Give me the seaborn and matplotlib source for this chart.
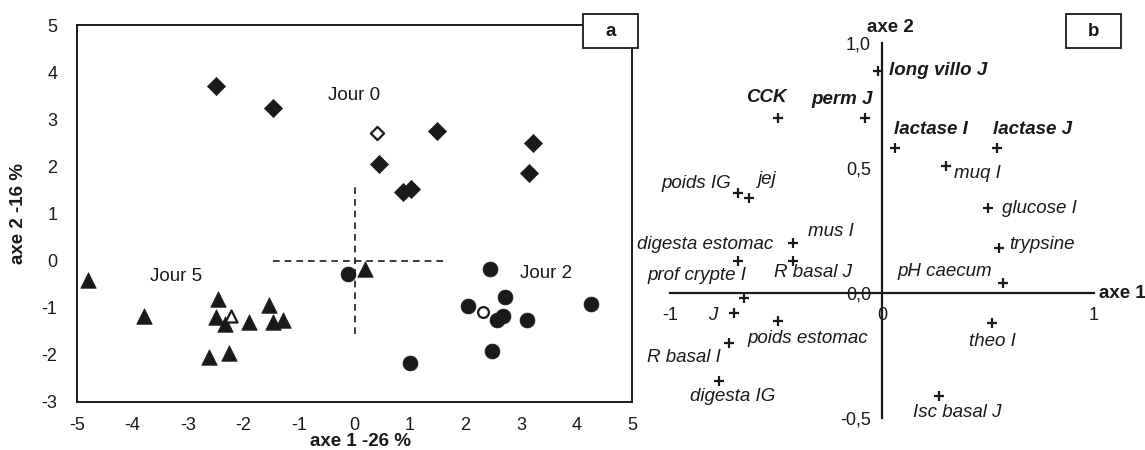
import matplotlib
matplotlib.use('Agg')

import pandas as pd
import matplotlib.pyplot as plt
import seaborn as sns
from matplotlib.patches import Rectangle

# -----------------------------
# DATA - panel a (individual scores)
# -----------------------------
jour0_x = [-2.50, -1.47, 1.49, 3.22, 0.44, 3.15, 0.87, 1.02]
jour0_y = [3.70, 3.24, 2.75, 2.49, 2.05, 1.86, 1.45, 1.52]
jour0_mean_x = [0.41]
jour0_mean_y = [2.71]

jour2_x = [-0.12, 2.44, 2.71, 2.05, 2.57, 2.68, 3.11, 4.26, 2.48, 1.00]
jour2_y = [-0.29, -0.18, -0.78, -0.97, -1.26, -1.18, -1.25, -0.91, -1.92, -2.18]
jour2_mean_x = [2.32]
jour2_mean_y = [-1.09]

jour5_x = [-4.80, -3.79, -2.46, -2.50, -2.33, -1.90, -1.54, -1.47, -1.29, -2.62, -2.26, 0.19]
jour5_y = [-0.42, -1.18, -0.82, -1.20, -1.35, -1.31, -0.95, -1.31, -1.26, -2.05, -1.95, -0.18]
jour5_mean_x = [-2.23]
jour5_mean_y = [-1.18]

# -----------------------------
# DATA - panel b (variable loadings)
# -----------------------------
var_names = ["long villo J", "CCK", "perm J", "lactase I", "lactase J", "muq I",
             "glucose I", "trypsine", "pH caecum", "theo I", "Isc basal J",
             "poids IG", "jej", "mus I", "digesta estomac", "R basal J",
             "prof crypte I", "J", "poids estomac", "R basal I", "digesta IG"]
var_x = [-0.02, -0.49, -0.08, 0.06, 0.54, 0.30, 0.50, 0.55, 0.57, 0.52, 0.27,
         -0.68, -0.63, -0.42, -0.68, -0.42, -0.65, -0.70, -0.49, -0.72, -0.77]
var_y = [0.89, 0.70, 0.70, 0.58, 0.58, 0.51, 0.34, 0.18, 0.04, -0.12, -0.41,
         0.40, 0.38, 0.20, 0.13, 0.13, -0.02, -0.08, -0.11, -0.20, -0.35]
var_bold = [True, True, True, True, True] + [False] * 16

# label placement (offset in pixels, alignment)
label_pos = [(11, 0, "left"), (-12, 20, "center"), (-23, 18, "center"),
             (-1, 19, "left"), (-4, 19, "left"), (8, -8, "left"),
             (14, 0, "left"), (11, 4, "left"), (-11, 11, "right"),
             (0, -18, "center"), (18, -17, "center"), (-7, 10, "right"),
             (18, 19, "center"), (38, 12, "center"), (35, 16, "right"),
             (20, -12, "center"), (-47, 23, "center"), (-21, -2, "center"),
             (30, -18, "center"), (-46, -15, "center"), (14, -16, "center")]

sns.set_style("white")
plt.rcParams['font.family'] = ['Liberation Sans', 'DejaVu Sans']
plt.rcParams['axes.unicode_minus'] = False

fig = plt.figure(figsize=(11.45, 4.5), dpi=100)
INK = "#1a1a1a"

# -----------------------------
# PANEL A
# -----------------------------
ax = fig.add_axes([77 / 1145, 1 - 402 / 450, 555 / 1145, 377 / 450])

sns.scatterplot(x=jour0_x, y=jour0_y, marker="D", s=85, color=INK,
                edgecolor=INK, linewidth=0.5, ax=ax, zorder=3)
sns.scatterplot(x=jour0_mean_x, y=jour0_mean_y, marker="D", s=45, color="white",
                edgecolor=INK, linewidth=1.6, ax=ax, zorder=4)
sns.scatterplot(x=jour2_x, y=jour2_y, marker="o", s=115, color=INK,
                edgecolor=INK, linewidth=0.5, ax=ax, zorder=3)
sns.scatterplot(x=jour2_mean_x, y=jour2_mean_y, marker="o", s=60, color="white",
                edgecolor=INK, linewidth=1.6, ax=ax, zorder=4)
sns.scatterplot(x=jour5_x, y=jour5_y, marker="^", s=125, color=INK,
                edgecolor=INK, linewidth=0.5, ax=ax, zorder=3)
sns.scatterplot(x=jour5_mean_x, y=jour5_mean_y, marker="^", s=75, color="white",
                edgecolor=INK, linewidth=1.6, ax=ax, zorder=4)

# dashed centre cross
ax.plot([0, 0], [-1.55, 1.6], ls=(0, (4, 3)), color=INK, lw=1.2)
ax.plot([-1.47, 1.65], [0, 0], ls=(0, (4, 3)), color=INK, lw=1.2)

ax.text(0.0, 3.5, "Jour 0", fontsize=13.5, ha="center", va="center", color=INK)
ax.text(-3.22, -0.33, "Jour 5", fontsize=13.5, ha="center", va="center", color=INK)
ax.text(3.45, -0.27, "Jour 2", fontsize=13.5, ha="center", va="center", color=INK)

ax.set_xlim(-5, 5)
ax.set_ylim(-3, 5)
ax.set_xticks(range(-5, 6))
ax.set_yticks(range(-3, 6))
ax.tick_params(length=0, labelsize=13, colors=INK)
ax.tick_params(axis="x", pad=11)
ax.tick_params(axis="y", pad=14)
for sp in ax.spines.values():
    sp.set_color(INK)
    sp.set_linewidth(1.4)

ax.set_xlabel("axe 1 -26 %", fontsize=13.5, fontweight="bold", color=INK)
ax.set_ylabel("axe 2 -16 %", fontsize=13.5, fontweight="bold", color=INK)
ax.xaxis.set_label_coords(0.51, -0.106)
ax.xaxis.label.set_va("center")
ax.yaxis.set_label_coords(-0.106, 0.5)
ax.yaxis.label.set_va("center")

# -----------------------------
# PANEL B
# -----------------------------
bx = fig.add_axes([640 / 1145, 5 / 450, 500 / 1145, 440 / 450])
bx.set_xlim(-1.142, 1.217)
bx.set_ylim(-0.608, 1.152)

sns.scatterplot(x=var_x, y=var_y, marker="+", s=60, color=INK,
                linewidth=1.6, ax=bx, zorder=3)

for name, x, y, bold, (dx, dy, ha) in zip(var_names, var_x, var_y, var_bold, label_pos):
    bx.annotate(name, (x, y), xytext=(dx, dy), textcoords="offset pixels",
                ha=ha, va="center", fontsize=13.5, style="italic",
                fontweight="bold" if bold else "normal", color=INK)

bx.spines["left"].set_position(("data", 0))
bx.spines["bottom"].set_position(("data", 0))
bx.spines["right"].set_visible(False)
bx.spines["top"].set_visible(False)
bx.spines["left"].set_bounds(-0.5, 1.0)
bx.spines["bottom"].set_bounds(-1, 1)
for sp in ("left", "bottom"):
    bx.spines[sp].set_color(INK)
    bx.spines[sp].set_linewidth(1.6)

bx.set_xticks([-1, 0, 1])
bx.set_xticklabels(["-1", "0", "1"])
bx.set_yticks([-0.5, 0.0, 0.5, 1.0])
bx.set_yticklabels(["-0,5", "0,0", "0,5", "1,0"])
bx.tick_params(direction="inout", length=8, width=1.6, colors=INK, labelsize=13)
bx.tick_params(axis="x", pad=6)
bx.tick_params(axis="y", pad=4)

bx.text(0.04, 1.064, "axe 2", fontsize=13.5, fontweight="bold", ha="center",
        va="center", color=INK)
bx.text(1.024, 0.0, "axe 1", fontsize=13.5, fontweight="bold", ha="left",
        va="center", color=INK)

# -----------------------------
# PANEL TAGS
# -----------------------------
for x0, x1, tag in [(583, 638, "a"), (1066, 1121, "b")]:
    y0, y1 = 14, 48
    fig.add_artist(Rectangle((x0 / 1145, 1 - y1 / 450), (x1 - x0) / 1145,
                             (y1 - y0) / 450, transform=fig.transFigure,
                             facecolor="white", edgecolor=INK, lw=1.3, zorder=10))
    fig.text((x0 + x1) / 2 / 1145, 1 - (y0 + y1) / 2 / 450, tag, fontsize=13.5,
             fontweight="bold", ha="center", va="center", color=INK, zorder=11)

plt.savefig("out.png", dpi=100)
plt.close()
